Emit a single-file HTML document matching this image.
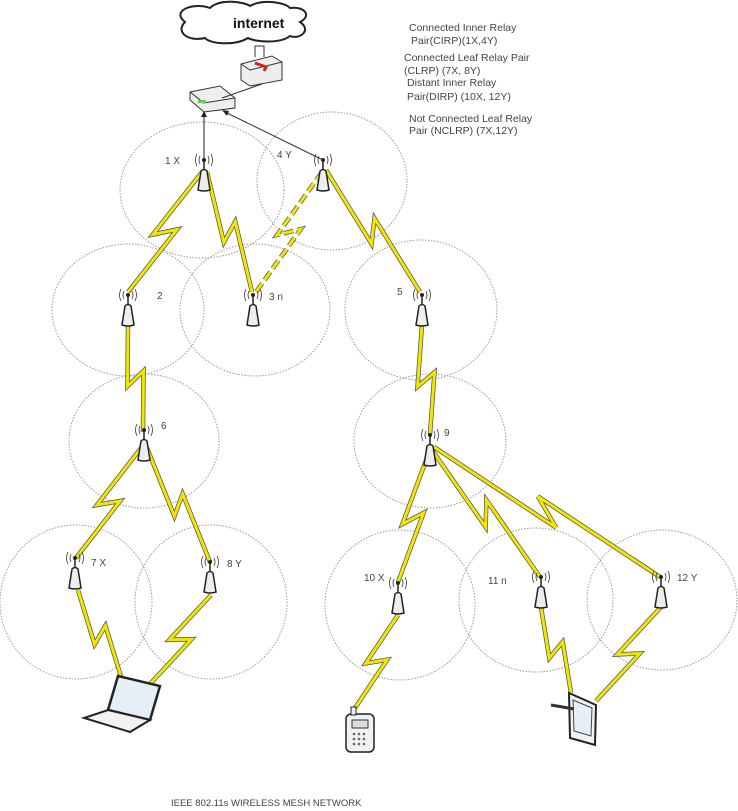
<!DOCTYPE html>
<html><head><meta charset="utf-8"><style>
body{margin:0;background:#fff;width:738px;height:811px;overflow:hidden}
svg{display:block}
text{font-family:"Liberation Sans",sans-serif;fill:#444}
</style></head><body>
<svg id="s" width="738" height="811" viewBox="0 0 738 811" xmlns="http://www.w3.org/2000/svg">
<g fill="none" stroke="#999" stroke-width="1" stroke-dasharray="1.5 1.5">
<ellipse cx="202" cy="190" rx="82" ry="68"/>
<ellipse cx="332" cy="181" rx="75" ry="69"/>
<ellipse cx="128" cy="310" rx="76" ry="66"/>
<ellipse cx="255" cy="310" rx="75" ry="66"/>
<ellipse cx="421" cy="310" rx="76" ry="70"/>
<ellipse cx="144" cy="441" rx="75" ry="67"/>
<ellipse cx="430" cy="441" rx="76" ry="67"/>
<ellipse cx="76" cy="602" rx="76" ry="77"/>
<ellipse cx="211" cy="602" rx="76" ry="77"/>
<ellipse cx="400" cy="605" rx="75" ry="75"/>
<ellipse cx="536" cy="600" rx="77" ry="72"/>
<ellipse cx="662" cy="600" rx="75" ry="70"/>
</g>
<g id="bolts"></g>
<g id="ants"></g>
<path d="M185,22 C170,10 195,2 210,8 C220,-2 245,2 250,6 C262,-1 285,2 290,8 C305,6 312,16 300,22 C312,30 300,40 290,36 C280,44 255,42 248,38 C235,46 210,44 205,38 C188,42 175,32 185,22 Z" fill="#fff" stroke="#222" stroke-width="2"/>
<text x="233" y="28" font-size="14" font-weight="bold" style="fill:#111">internet</text>
<polyline points="255,57 255,46 264,46 264,57" fill="none" stroke="#333"/>
<path d="M241,64 L272,56 L282,62 L282,80 L250,86 L241,80 Z" fill="#eee" stroke="#333"/>
<path d="M241,64 L250,70 L282,62" fill="none" stroke="#333"/>
<path d="M255,63 L266,67 L264,71" fill="none" stroke="#c22" stroke-width="3"/>
<path d="M190,92 L220,86 L235,98 L235,108 L204,112 L190,100 Z" fill="#eee" stroke="#333"/>
<path d="M190,92 L204,103 L235,98" fill="none" stroke="#333"/>
<rect x="198" y="100" width="8" height="3" fill="#6c6"/>
<line x1="222" y1="98" x2="262" y2="84" stroke="#333"/>
<line x1="204" y1="160" x2="204" y2="113" stroke="#222"/>
<polygon points="204,111 201,117 207,117" fill="#222"/>
<line x1="323" y1="160" x2="225" y2="112" stroke="#333"/>
<polygon points="222,110 229,111 227,116" fill="#222"/>
<g font-size="10.5">
<text x="409" y="31">Connected Inner Relay</text>
<text x="411" y="44">Pair(CIRP)(1X,4Y)</text>
<text x="404" y="61">Connected Leaf Relay Pair</text>
<text x="404" y="74">(CLRP) (7X, 8Y)</text>
<text x="407" y="86">Distant Inner Relay</text>
<text x="407" y="100">Pair(DIRP) (10X, 12Y)</text>
<text x="409" y="122">Not Connected Leaf Relay</text>
<text x="409" y="134">Pair (NCLRP) (7X,12Y)</text>
</g>
<g font-size="10">
<text x="165" y="164">1 X</text>
<text x="277" y="158">4 Y</text>
<text x="157" y="299">2</text>
<text x="269" y="300">3 n</text>
<text x="397" y="295">5</text>
<text x="161" y="429">6</text>
<text x="444" y="436">9</text>
<text x="91" y="566">7 X</text>
<text x="227" y="567">8 Y</text>
<text x="364" y="581">10 X</text>
<text x="488" y="584">11 n</text>
<text x="677" y="581">12 Y</text>
</g>
<text x="171" y="806" font-size="9.5">IEEE 802.11s WIRELESS MESH NETWORK</text>
<path d="M118,676 L160,686 L150,720 L108,710 Z" fill="#e6eef6" stroke="#222" stroke-width="2.5"/>
<path d="M108,710 L150,720 L130,732 L84,718 Z" fill="#f2f2f2" stroke="#222" stroke-width="2"/>
<rect x="346" y="714" width="28" height="38" rx="5" fill="#f2f2f2" stroke="#222" stroke-width="1.5"/>
<rect x="351" y="707" width="5" height="8" fill="#eee" stroke="#222"/>
<rect x="352" y="720" width="16" height="8" fill="#ddd" stroke="#333"/>
<g fill="#666"><circle cx="354" cy="734" r="1.3"/><circle cx="359" cy="734" r="1.3"/><circle cx="364" cy="734" r="1.3"/><circle cx="354" cy="739" r="1.3"/><circle cx="359" cy="739" r="1.3"/><circle cx="364" cy="739" r="1.3"/><circle cx="354" cy="744" r="1.3"/><circle cx="359" cy="744" r="1.3"/><circle cx="364" cy="744" r="1.3"/></g>
<path d="M569,693 L596,705 L595,745 L570,738 Z" fill="#f2f2f2" stroke="#222" stroke-width="2"/>
<path d="M573,700 L592,708 L591,736 L574,731 Z" fill="#e6eef6" stroke="#444"/>
<line x1="551" y1="705" x2="574" y2="709" stroke="#333" stroke-width="3"/>
</svg>
<script>
var ns="http://www.w3.org/2000/svg";
function bolt(ax,ay,bx,by,dash){
 var dx=bx-ax,dy=by-ay,L=Math.hypot(dx,dy),nx=-dy/L,ny=dx/L,w=9;
 var p1=[ax+dx*0.56+nx*w,ay+dy*0.56+ny*w],p2=[ax+dx*0.44-nx*w,ay+dy*0.44-ny*w];
 var pts=[[ax,ay],p1,p2,[bx,by]].map(function(p){return p[0].toFixed(1)+","+p[1].toFixed(1)}).join(" ");
 var g=document.getElementById("bolts");
 [["#555",4.5],["#f2e600",3]].forEach(function(s){
  var e=document.createElementNS(ns,"polyline");e.setAttribute("points",pts);
  e.setAttribute("fill","none");e.setAttribute("stroke",s[0]);e.setAttribute("stroke-width",s[1]);
  if(dash)e.setAttribute("stroke-dasharray","10 4");g.appendChild(e);});
}
bolt(202,172,128,292);bolt(207,172,252,292);bolt(322,172,256,292,1);bolt(326,170,420,292);
bolt(128,325,143,432);bolt(141,448,76,558);bolt(147,448,210,562);bolt(422,325,430,434);
bolt(428,455,398,582);bolt(432,450,540,577);bolt(434,447,660,577);
bolt(78,590,122,680);bolt(211,595,150,684);bolt(398,615,355,708);bolt(541,607,571,693);bolt(661,607,596,701);
function ant(x,y){
 var g=document.getElementById("ants");
 g.insertAdjacentHTML("beforeend",
 '<line x1="'+x+'" y1="'+y+'" x2="'+x+'" y2="'+(y+12)+'" stroke="#222" stroke-width="1.5"/>'+
 '<circle cx="'+x+'" cy="'+y+'" r="2" fill="#222"/>'+
 '<path d="M'+(x-4)+','+(y-4)+' q-2,4 0,8 M'+(x+4)+','+(y-4)+' q2,4 0,8 M'+(x-7)+','+(y-6)+' q-3,6 0,12 M'+(x+7)+','+(y-6)+' q3,6 0,12" fill="none" stroke="#333" stroke-width="0.8"/>'+
 '<path d="M'+(x-3)+','+(y+11)+' Q'+x+','+(y+8)+' '+(x+3)+','+(y+11)+' L'+(x+6)+','+(y+30)+' Q'+x+','+(y+32)+' '+(x-6)+','+(y+30)+' Z" fill="#eee" stroke="#222" stroke-width="1.5"/>');
}
[[204,160],[323,160],[128,295],[253,295],[422,295],[144,430],[430,435],[75,558],[210,562],[398,583],[541,577],[661,577]].forEach(function(a){ant(a[0],a[1]);});
</script>
</body></html>
